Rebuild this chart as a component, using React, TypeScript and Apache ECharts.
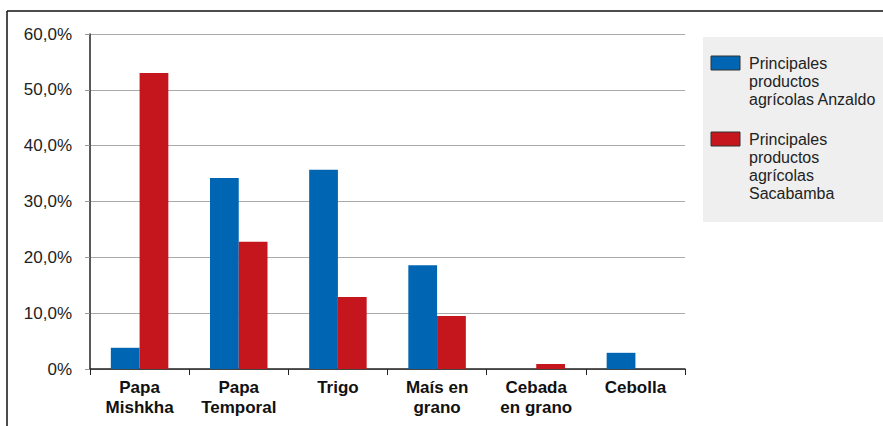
import React, { useEffect, useRef } from "react";
import * as echarts from "echarts";

const categories = ["Papa\nMishkha", "Papa\nTemporal", "Trigo", "Maís en\ngrano", "Cebada\nen grano", "Cebolla"];
const seriesNames = ["Principales productos agrícolas Anzaldo", "Principales productos agrícolas Sacabamba"];
const legendLabels = ["Principales\nproductos\nagrícolas Anzaldo", "Principales\nproductos\nagrícolas\nSacabamba"];
const anzaldo = [3.8, 34.2, 35.7, 18.6, 0, 2.9];
const sacabamba = [53.0, 22.8, 12.9, 9.5, 0.9, 0];
const colors = ["#0066b3", "#c4161c"];
const yMin = 0;
const yMax = 60;
const yInterval = 10;

const FONT = "'Liberation Sans', Arial, sans-serif";

export default function App() {
  const ref = useRef<HTMLDivElement>(null);
  useEffect(() => {
    if (!ref.current) return;
    const chart = echarts.init(ref.current, null, { renderer: "svg" });
    const legendTops = [56, 132];
    const legendGraphics: any[] = [];
    legendLabels.forEach((lbl, i) => {
      legendGraphics.push({
        type: "rect",
        shape: { x: 711, y: legendTops[i], width: 29, height: 14 },
        style: { fill: colors[i], stroke: "#333", lineWidth: 1 },
      });
      legendGraphics.push({
        type: "text",
        x: 749,
        y: legendTops[i] - 2,
        style: {
          text: lbl,
          font: `16px ${FONT}`,
          lineHeight: 18,
          fill: "#222",
          verticalAlign: "top",
          align: "left",
        },
      });
    });
    chart.setOption({
      animation: false,
      textStyle: { fontFamily: FONT },
      grid: { left: 90, right: 198, top: 34, bottom: 57, containLabel: false },
      xAxis: {
        type: "category",
        data: categories,
        axisLine: { show: true, lineStyle: { color: "#222", width: 1.5 } },
        axisTick: { show: true, length: 6, lineStyle: { color: "#222" }, alignWithLabel: false },
        axisLabel: {
          interval: 0,
          margin: 8,
          fontSize: 17,
          fontWeight: "bold",
          color: "#111",
          lineHeight: 20,
          fontFamily: FONT,
        },
      },
      yAxis: {
        type: "value",
        min: yMin,
        max: yMax,
        interval: yInterval,
        axisLine: { show: true, lineStyle: { color: "#222", width: 1.5 } },
        axisTick: { show: true, length: 5, lineStyle: { color: "#999" } },
        splitLine: { show: true, lineStyle: { color: "#aaa", width: 1 } },
        axisLabel: {
          margin: 18,
          fontSize: 17,
          color: "#222",
          fontFamily: FONT,
          formatter: (v: number) => (v === 0 ? "0%" : v.toFixed(1).replace(".", ",") + "%"),
        },
      },
      series: [
        {
          name: seriesNames[0],
          type: "bar",
          data: anzaldo,
          itemStyle: { color: colors[0] },
          barGap: "0%",
          barCategoryGap: "42%",
        },
        {
          name: seriesNames[1],
          type: "bar",
          data: sacabamba,
          itemStyle: { color: colors[1] },
          barGap: "0%",
          barCategoryGap: "42%",
        },
      ],
      graphic: [
        {
          type: "rect",
          z: -1,
          shape: { x: 703, y: 37, width: 180, height: 185 },
          style: { fill: "#efefef" },
        },
        ...legendGraphics,
        {
          type: "line",
          shape: { x1: 7, y1: 11, x2: 883, y2: 11 },
          style: { stroke: "#111", lineWidth: 1.5 },
        },
        {
          type: "line",
          shape: { x1: 7, y1: 11, x2: 7, y2: 426 },
          style: { stroke: "#111", lineWidth: 1.5 },
        },
      ],
    });
    return () => chart.dispose();
  }, []);
  return (
    <div
      ref={ref}
      style={{ position: "absolute", left: 0, top: 0, width: 883, height: 426, background: "#fff" }}
    />
  );
}
